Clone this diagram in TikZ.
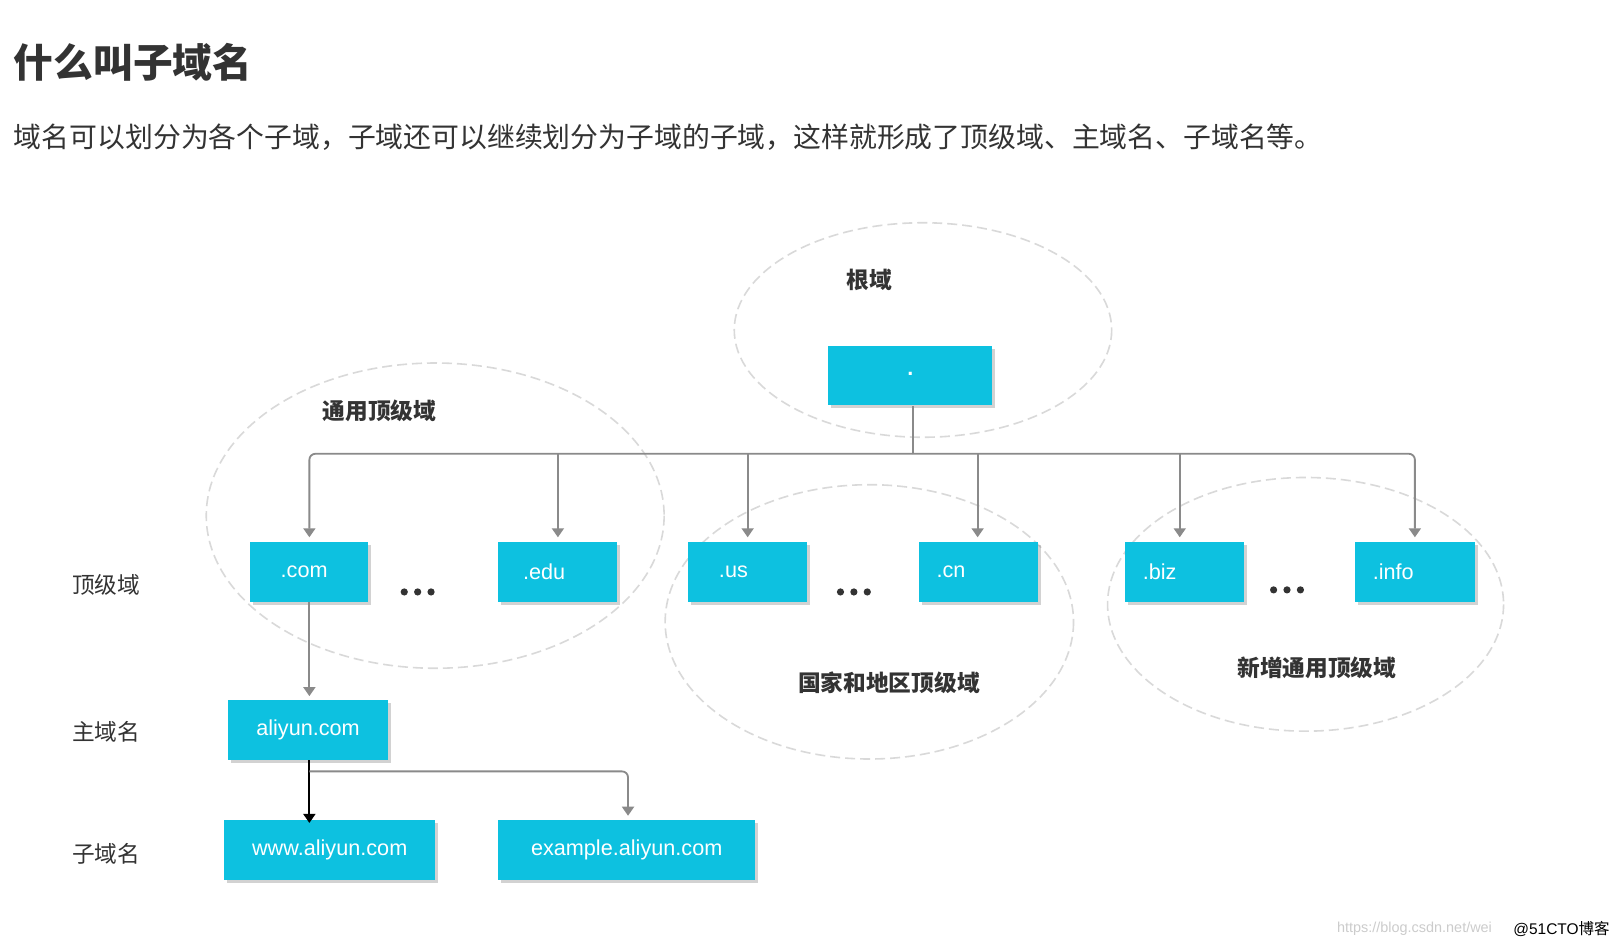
\documentclass[tikz,border=0pt]{standalone}
\usepackage{fontspec}
\setmainfont{Liberation Sans}
\newfontfamily\cjk{Noto Sans CJK SC}
\usetikzlibrary{arrows.meta,shadows}
\definecolor{boxc}{HTML}{0DC1E0}
\definecolor{linec}{HTML}{8A8A8A}
\definecolor{txt}{HTML}{333333}
\begin{document}
\begin{tikzpicture}[x=1pt,y=-1pt,scale=1.0313,every node/.append style={transform shape},
  box/.style={fill=boxc,draw=none,drop shadow={shadow xshift=3pt,shadow yshift=-3pt,opacity=0.35},text=white,font=\fontsize{21}{21}\selectfont,inner sep=0pt,anchor=north west},
  ell/.style={draw=black!15,line width=1.6pt,dash pattern=on 10pt off 5pt},
  lab/.style={font=\cjk\fontsize{22}{22}\selectfont,text=txt},
  blab/.style={font=\cjk\bfseries\fontsize{22}{22}\selectfont,text=txt},
  dot/.style={fill=txt,draw=none,circle,minimum size=7pt,inner sep=0pt},
  con/.style={draw=linec,line width=1.8pt,rounded corners=6pt},
  arr/.style={con,-{Triangle[length=9pt,width=12pt]}}]
\useasboundingbox (0,0) rectangle (1568,919.2);
\fill[white] (0,0) rectangle (1568,919.2);
\node[anchor=west,font=\cjk\bfseries\fontsize{38.5}{38.5}\selectfont,text=txt] (title) at (10,60) {什么叫子域名};
\node[anchor=west,font=\cjk\fontsize{27}{27}\selectfont,text=txt] (para) at (10,133) {域名可以划分为各个子域，子域还可以继续划分为子域的子域，这样就形成了顶级域、主域名、子域名等。};
% ellipses
\draw[ell] (895,320) ellipse [x radius=183,y radius=104];
\draw[ell] (422,500) ellipse [x radius=222,y radius=148];
\draw[ell] (843,603) ellipse [x radius=198,y radius=133];
\draw[ell] (1266,586) ellipse [x radius=192,y radius=123];
\node[blab] (lroot) at (843,271) {根域};
\node[blab] (lgen) at (368,398) {通用顶级域};
\node[blab] (lcc) at (862,662) {国家和地区顶级域};
\node[blab] (lnew) at (1277,648) {新增通用顶级域};
\node[lab] (ltld) at (103,567) {顶级域};
\node[lab] (lmain) at (103,710) {主域名};
\node[lab] (lsub) at (103,828) {子域名};
% boxes
\node[box,minimum width=159pt,minimum height=58pt] (root) at (803,335) {\raisebox{4pt}{\bfseries.}};
\node[box,minimum width=115pt,minimum height=59pt,text width=103pt,align=left] (com) at (242,525) {\hspace*{24pt}.com};
\node[box,minimum width=115pt,minimum height=59pt,text width=103pt,align=left] (edu) at (483,525) {\hspace*{18pt}.edu};
\node[box,minimum width=115pt,minimum height=59pt,text width=103pt,align=left] (us) at (667,525) {\hspace*{24pt}.us};
\node[box,minimum width=115pt,minimum height=59pt,text width=103pt,align=left] (cn) at (891,525) {\hspace*{11pt}.cn};
\node[box,minimum width=115pt,minimum height=59pt,text width=103pt,align=left] (biz) at (1091,525) {\hspace*{11pt}.biz};
\node[box,minimum width=116pt,minimum height=59pt,text width=104pt,align=left] (info) at (1314,525) {\hspace*{11pt}.info};
\node[box,minimum width=155pt,minimum height=58pt] (aliyun) at (221,679) {aliyun.com};
\node[box,minimum width=205pt,minimum height=58pt] (www) at (217,795) {www.aliyun.com};
\node[box,minimum width=249pt,minimum height=58pt] (ex) at (483,795) {example.aliyun.com};
\foreach \cx/\cy/\n in {405/574/a,828/574/b,1248/572/c}{
  \node[dot] (d\n1) at (\cx-13,\cy) {};
  \node[dot] (d\n2) at (\cx,\cy) {};
  \node[dot] (d\n3) at (\cx+13,\cy) {};
}
% connectors
\coordinate (bus) at (885,440);
\draw[con] (root.south -| bus) -- (bus);
\draw[arr] (bus) -- (300,440) -- (300,521);
\draw[arr] (bus) -- (1372,440) -- (1372,521);
\draw[arr] (541,440) -- (541,521);
\draw[arr] (725,440) -- (725,521);
\draw[arr] (948,440) -- (948,521);
\draw[arr] (1144,440) -- (1144,521);
\draw[arr] (300,584) -- (300,675);
\draw[line width=1.8pt,-{Triangle[length=9pt,width=12pt]}] (300,737) -- (300,798);
\draw[arr] (300,748) -- (609,748) -- (609,791);
\node[anchor=west,font=\fontsize{14}{14}\selectfont,text=black!20] (wm) at (1293,901) {https://blog.csdn.net/wei};
\node[anchor=east,font=\fontsize{15}{15}\selectfont,text=black,inner sep=1pt] (wm2) at (1562,901) {@51CTO{\cjk 博客}};
\end{tikzpicture}
\end{document}
